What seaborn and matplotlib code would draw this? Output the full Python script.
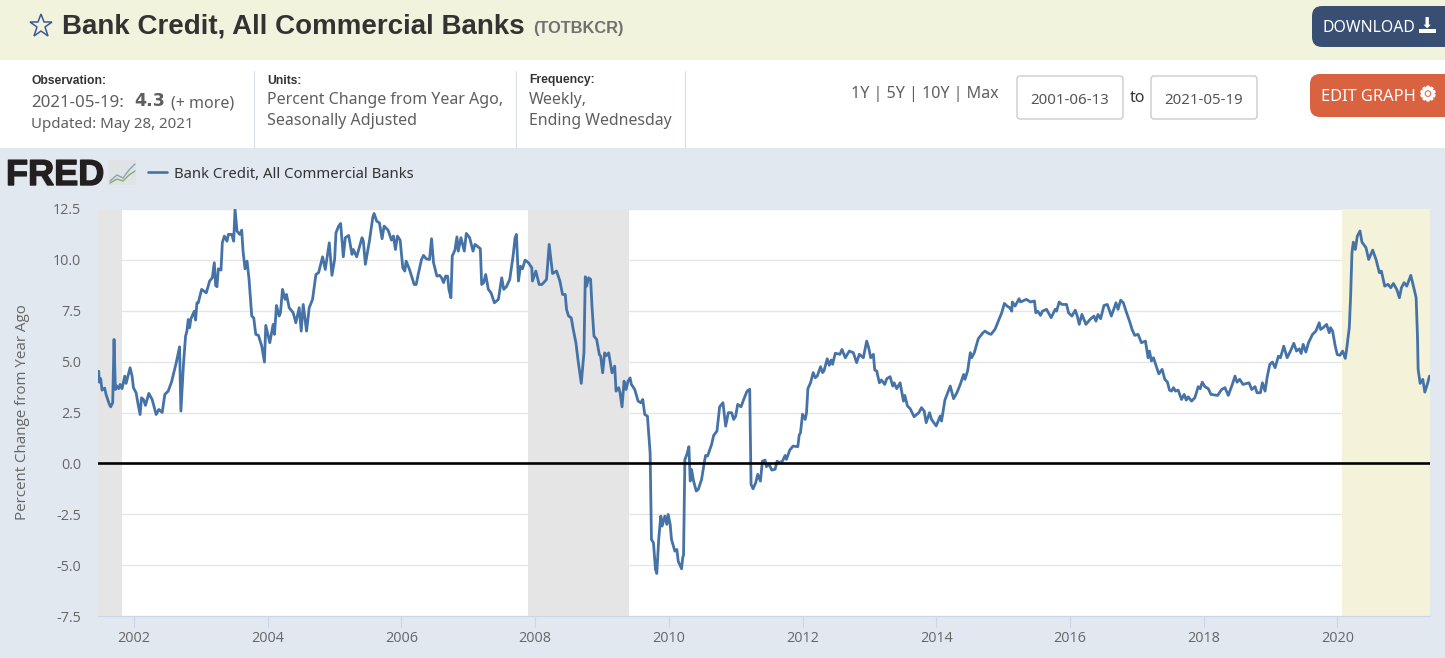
import matplotlib
matplotlib.use('Agg')
import matplotlib.pyplot as plt
import matplotlib.patheffects as pe
import pandas as pd
import seaborn as sns
from matplotlib.patches import FancyBboxPatch, Rectangle

# decimal year, percent change from year ago
years = [
    2001.47, 2001.48, 2001.50, 2001.52, 2001.56, 2001.58, 2001.63, 2001.65, 2001.68, 2001.70,
    2001.72, 2001.74, 2001.77, 2001.79, 2001.82, 2001.86, 2001.88, 2001.94, 2001.97, 2001.99,
    2002.03, 2002.06, 2002.09, 2002.11, 2002.14, 2002.17, 2002.22, 2002.27, 2002.33, 2002.37,
    2002.42, 2002.46, 2002.51, 2002.56, 2002.63, 2002.68, 2002.70, 2002.74, 2002.77, 2002.79,
    2002.81, 2002.83, 2002.85, 2002.90, 2002.92, 2002.94, 2002.96, 2003.01, 2003.08, 2003.13,
    2003.17, 2003.20, 2003.22, 2003.24, 2003.26, 2003.30, 2003.32, 2003.35, 2003.39, 2003.41,
    2003.46, 2003.49, 2003.51, 2003.54, 2003.58, 2003.61, 2003.63, 2003.66, 2003.69, 2003.72,
    2003.76, 2003.79, 2003.82, 2003.86, 2003.91, 2003.95, 2003.97, 2004.03, 2004.08, 2004.10,
    2004.13, 2004.17, 2004.19, 2004.22, 2004.26, 2004.28, 2004.32, 2004.38, 2004.42, 2004.47,
    2004.50, 2004.53, 2004.58, 2004.62, 2004.67, 2004.72, 2004.76, 2004.82, 2004.86, 2004.92,
    2004.96, 2005.00, 2005.02, 2005.06, 2005.09, 2005.13, 2005.16, 2005.21, 2005.26, 2005.28,
    2005.33, 2005.41, 2005.43, 2005.46, 2005.52, 2005.57, 2005.59, 2005.63, 2005.67, 2005.71,
    2005.74, 2005.80, 2005.85, 2005.88, 2005.91, 2005.94, 2005.98, 2006.02, 2006.05, 2006.07,
    2006.12, 2006.19, 2006.22, 2006.25, 2006.30, 2006.33, 2006.37, 2006.42, 2006.45, 2006.48,
    2006.53, 2006.57, 2006.60, 2006.63, 2006.66, 2006.69, 2006.71, 2006.74, 2006.76, 2006.80,
    2006.83, 2006.85, 2006.89, 2006.94, 2006.97, 2007.02, 2007.07, 2007.10, 2007.18, 2007.20,
    2007.23, 2007.26, 2007.30, 2007.34, 2007.39, 2007.45, 2007.50, 2007.53, 2007.57, 2007.62,
    2007.67, 2007.70, 2007.72, 2007.75, 2007.78, 2007.81, 2007.85, 2007.90, 2007.95, 2007.96,
    2008.01, 2008.06, 2008.10, 2008.15, 2008.17, 2008.21, 2008.26, 2008.32, 2008.37, 2008.41,
    2008.45, 2008.47, 2008.50, 2008.54, 2008.57, 2008.61, 2008.64, 2008.69, 2008.73, 2008.75,
    2008.77, 2008.80, 2008.83, 2008.85, 2008.88, 2008.92, 2008.96, 2008.98, 2009.01, 2009.04,
    2009.07, 2009.10, 2009.15, 2009.19, 2009.21, 2009.25, 2009.27, 2009.30, 2009.33, 2009.36,
    2009.39, 2009.42, 2009.44, 2009.49, 2009.54, 2009.58, 2009.61, 2009.64, 2009.68, 2009.72,
    2009.74, 2009.77, 2009.80, 2009.82, 2009.85, 2009.88, 2009.90, 2009.94, 2009.97, 2009.99,
    2010.02, 2010.04, 2010.09, 2010.12, 2010.14, 2010.19, 2010.21, 2010.22, 2010.24, 2010.27,
    2010.30, 2010.32, 2010.34, 2010.37, 2010.41, 2010.44, 2010.49, 2010.53, 2010.55, 2010.58,
    2010.64, 2010.67, 2010.72, 2010.76, 2010.81, 2010.85, 2010.89, 2010.94, 2010.97, 2011.00,
    2011.03, 2011.08, 2011.12, 2011.17, 2011.21, 2011.23, 2011.26, 2011.30, 2011.33, 2011.37,
    2011.40, 2011.44, 2011.46, 2011.50, 2011.54, 2011.59, 2011.62, 2011.65, 2011.70, 2011.74,
    2011.76, 2011.81, 2011.86, 2011.93, 2011.95, 2011.97, 2012.00, 2012.04, 2012.06, 2012.08,
    2012.12, 2012.16, 2012.19, 2012.22, 2012.27, 2012.30, 2012.32, 2012.37, 2012.40, 2012.43,
    2012.45, 2012.49, 2012.56, 2012.59, 2012.64, 2012.70, 2012.76, 2012.81, 2012.85, 2012.91,
    2012.96, 2012.99, 2013.02, 2013.06, 2013.08, 2013.11, 2013.15, 2013.18, 2013.23, 2013.26,
    2013.31, 2013.35, 2013.37, 2013.41, 2013.46, 2013.51, 2013.53, 2013.57, 2013.61, 2013.67,
    2013.71, 2013.74, 2013.78, 2013.82, 2013.85, 2013.90, 2013.93, 2014.00, 2014.06, 2014.08,
    2014.13, 2014.21, 2014.26, 2014.31, 2014.36, 2014.41, 2014.43, 2014.47, 2014.51, 2014.53,
    2014.57, 2014.63, 2014.70, 2014.73, 2014.78, 2014.82, 2014.88, 2014.95, 2014.98, 2015.02,
    2015.06, 2015.10, 2015.13, 2015.14, 2015.18, 2015.24, 2015.26, 2015.35, 2015.41, 2015.47,
    2015.49, 2015.52, 2015.56, 2015.59, 2015.65, 2015.72, 2015.78, 2015.80, 2015.84, 2015.88,
    2015.95, 2015.98, 2016.03, 2016.08, 2016.11, 2016.14, 2016.18, 2016.24, 2016.30, 2016.36,
    2016.39, 2016.42, 2016.46, 2016.51, 2016.56, 2016.62, 2016.69, 2016.72, 2016.76, 2016.80,
    2016.84, 2016.90, 2016.93, 2016.97, 2017.02, 2017.07, 2017.13, 2017.17, 2017.19, 2017.22,
    2017.25, 2017.30, 2017.33, 2017.38, 2017.42, 2017.46, 2017.49, 2017.52, 2017.55, 2017.58,
    2017.62, 2017.67, 2017.71, 2017.74, 2017.77, 2017.82, 2017.87, 2017.92, 2017.95, 2017.98,
    2018.02, 2018.07, 2018.11, 2018.21, 2018.27, 2018.32, 2018.37, 2018.43, 2018.47, 2018.50,
    2018.54, 2018.59, 2018.68, 2018.72, 2018.77, 2018.80, 2018.85, 2018.88, 2018.92, 2018.95,
    2018.99, 2019.03, 2019.07, 2019.12, 2019.15, 2019.20, 2019.25, 2019.30, 2019.35, 2019.39,
    2019.43, 2019.46, 2019.49, 2019.53, 2019.57, 2019.63, 2019.68, 2019.73, 2019.75, 2019.79,
    2019.84, 2019.88, 2019.90, 2019.93, 2019.97, 2020.00, 2020.04, 2020.08, 2020.12, 2020.14,
    2020.18, 2020.20, 2020.22, 2020.24, 2020.27, 2020.30, 2020.34, 2020.37, 2020.43, 2020.47,
    2020.53, 2020.58, 2020.63, 2020.66, 2020.71, 2020.76, 2020.80, 2020.84, 2020.89, 2020.93,
    2020.96, 2021.00, 2021.04, 2021.10, 2021.13, 2021.18, 2021.20, 2021.21, 2021.24, 2021.28,
    2021.31, 2021.34, 2021.38,
]
pct_change = [
    4.53, 3.99, 4.16, 3.60, 3.70, 3.39, 2.90, 2.78, 2.98, 6.09,
    3.63, 3.80, 3.67, 3.88, 3.67, 4.29, 3.93, 4.70, 4.29, 3.72,
    3.47, 2.90, 2.40, 3.22, 3.14, 2.85, 3.44, 3.14, 2.40, 2.65,
    2.50, 3.39, 3.55, 4.00, 4.94, 5.73, 2.57, 4.94, 6.25, 6.50,
    7.07, 6.66, 7.10, 7.48, 7.04, 7.89, 7.89, 8.55, 8.38, 8.96,
    9.12, 9.86, 8.74, 8.68, 9.56, 9.50, 10.84, 11.17, 10.92, 11.25,
    11.25, 10.92, 12.48, 11.41, 11.25, 11.46, 10.43, 9.56, 9.94, 9.04,
    7.24, 7.15, 6.34, 6.29, 5.76, 4.98, 6.78, 5.93, 6.83, 6.34,
    7.76, 7.24, 7.40, 8.55, 8.06, 8.30, 7.65, 7.40, 6.91, 7.65,
    6.50, 7.81, 6.50, 7.65, 8.06, 9.28, 9.37, 10.15, 9.53, 10.84,
    9.24, 10.02, 11.33, 11.66, 11.79, 10.15, 11.09, 11.20, 10.27, 10.51,
    10.15, 11.09, 10.92, 9.78, 10.92, 12.07, 12.28, 11.90, 11.82, 11.04,
    11.66, 11.46, 10.97, 11.17, 10.51, 11.17, 10.97, 9.61, 9.45, 9.94,
    9.53, 8.79, 8.79, 9.28, 10.02, 10.22, 10.05, 10.02, 11.04, 9.86,
    9.20, 9.24, 9.12, 8.88, 9.20, 9.20, 8.55, 8.14, 10.19, 10.48,
    11.13, 10.43, 11.09, 10.43, 11.30, 11.09, 10.43, 10.76, 10.55, 8.79,
    8.88, 9.28, 8.55, 8.38, 7.89, 8.06, 9.12, 8.55, 8.68, 9.04,
    10.19, 11.09, 11.25, 8.96, 9.69, 9.56, 9.99, 9.86, 9.61, 8.96,
    9.45, 8.79, 8.79, 8.96, 9.04, 10.76, 9.33, 9.45, 8.96, 8.30,
    8.30, 7.56, 7.24, 7.15, 6.58, 5.93, 5.11, 3.93, 5.43, 9.17,
    8.71, 9.12, 9.04, 7.73, 6.25, 6.09, 5.35, 5.27, 4.45, 5.43,
    5.30, 5.43, 4.45, 4.78, 3.55, 3.72, 3.47, 2.78, 4.04, 3.63,
    4.04, 4.20, 3.88, 3.63, 3.06, 2.98, 3.14, 2.40, 2.32, 0.52,
    -3.74, -3.90, -5.21, -5.41, -3.66, -2.59, -3.08, -2.59, -3.00, -2.51,
    -3.00, -3.74, -4.31, -4.23, -4.80, -5.18, -4.59, -4.52, 0.19, 0.44,
    0.82, -0.87, -0.30, -0.87, -1.36, -1.28, -0.79, 0.03, 0.39, 0.36,
    0.93, 1.37, 1.59, 2.78, 2.98, 1.83, 2.49, 2.49, 2.16, 2.32,
    2.90, 2.78, 3.14, 3.55, 3.64, -1.03, -1.25, -0.95, -0.54, -0.87,
    0.11, 0.16, -0.16, -0.05, -0.33, -0.29, 0.11, 0.03, 0.11, 0.39,
    0.20, 0.66, 0.85, 0.82, 1.38, 1.51, 2.41, 2.16, 2.49, 3.67,
    3.96, 4.46, 4.21, 4.29, 4.75, 4.46, 4.54, 5.14, 4.82, 5.08,
    4.87, 5.41, 5.36, 5.60, 5.19, 5.52, 5.44, 4.95, 5.36, 5.19,
    6.01, 5.68, 5.19, 5.36, 4.59, 4.54, 3.96, 4.10, 3.88, 4.16,
    4.26, 3.80, 3.96, 3.67, 3.96, 3.06, 3.34, 2.82, 2.69, 2.29,
    2.41, 2.49, 2.74, 2.57, 2.00, 2.49, 2.16, 1.84, 2.33, 2.08,
    3.11, 3.80, 3.18, 3.47, 3.88, 4.37, 4.13, 4.54, 5.44, 5.19,
    5.44, 6.13, 6.42, 6.50, 6.39, 6.34, 6.59, 7.16, 7.40, 7.86,
    7.73, 7.65, 7.48, 7.93, 7.73, 8.09, 7.93, 8.06, 7.93, 7.98,
    7.40, 7.48, 7.27, 7.48, 7.57, 7.16, 7.57, 7.48, 7.93, 7.81,
    7.81, 7.40, 7.24, 7.53, 7.24, 6.83, 7.32, 6.83, 7.07, 7.24,
    6.99, 7.32, 7.11, 7.76, 7.81, 7.24, 7.89, 7.57, 8.02, 7.89,
    7.48, 6.91, 6.58, 6.29, 6.34, 5.93, 6.01, 5.19, 5.52, 5.03,
    5.19, 4.70, 4.40, 4.62, 4.13, 3.99, 3.60, 3.55, 3.72, 3.55,
    3.60, 3.14, 3.39, 3.11, 3.27, 3.06, 3.23, 3.77, 3.67, 3.99,
    3.77, 3.67, 3.39, 3.34, 3.63, 3.72, 3.34, 3.88, 4.29, 3.99,
    4.13, 3.88, 3.96, 3.63, 3.77, 3.47, 3.47, 3.96, 3.55, 4.21,
    4.86, 4.98, 4.70, 5.27, 5.19, 5.76, 5.19, 5.52, 5.90, 5.52,
    5.63, 5.40, 5.85, 5.47, 5.93, 6.34, 6.50, 6.91, 6.58, 6.67,
    6.83, 6.42, 6.67, 6.50, 5.76, 5.35, 5.31, 5.52, 5.16, 5.60,
    6.67, 8.22, 10.35, 10.87, 10.51, 11.17, 11.42, 10.87, 10.60, 10.02,
    10.48, 10.02, 9.37, 9.45, 8.71, 8.80, 8.63, 8.84, 8.55, 8.14,
    8.63, 8.88, 8.71, 9.24, 8.84, 8.14, 6.26, 4.62, 3.93, 4.13,
    3.50, 3.80, 4.29,
]
recessions = [(2001.25, 2001.82), (2007.89, 2009.41)]
covid_band = (2020.07, 2021.38)
x_ticks = list(range(2002, 2021, 2))
y_ticks = [-7.5, -5.0, -2.5, 0.0, 2.5, 5.0, 7.5, 10.0, 12.5]

W, H = 1445, 658
BG = '#e1e8f0'
LINE = '#4572a7'
TXT = '#5f5f5f'
DARK = '#333333'

sns.set_theme(style='white')
plt.rcParams['font.family'] = ['Open Sans', 'DejaVu Sans']

fig = plt.figure(figsize=(W / 100, H / 100), dpi=100, facecolor=BG)

# page furniture around the chart, in pixels
ui = fig.add_axes([0, 0, 1, 1], zorder=0)
ui.set_xlim(0, W)
ui.set_ylim(H, 0)
ui.axis('off')
ui.add_patch(Rectangle((0, 0), W, 60, color='#f2f3dd', lw=0))
ui.add_patch(Rectangle((0, 60), W, 88, color='white', lw=0))
for sx in [253.5, 515.5, 684.5]:
    ui.plot([sx, sx], [71, 148], color='#d6e0ea', lw=0.8)

ui.plot([41], [26], marker='*', ms=17, mfc='none', mec='#3b5998', mew=1.1)
ui.text(62, 26, 'Bank Credit, All Commercial Banks', fontsize=20, fontweight='bold',
        family='Liberation Sans', color=DARK, va='center')
ui.text(533, 29, '(TOTBKCR)', fontsize=11.8, fontweight='bold', family='Liberation Sans', color='#707070', va='center')

small = dict(family='Noto Sans', va='center')
bold = dict(family='Liberation Sans', fontweight='bold', fontsize=8.7, color=DARK, va='center')
ui.text(31, 80.5, 'Observation:', **bold)
ui.text(31, 103, '2021-05-19:', fontsize=12.2, color=TXT, **small)
ui.text(134, 101, '4.3', fontsize=12.6, fontweight='bold', family='DejaVu Sans', color=TXT, va='center')
ui.text(171, 103, '(+ more)', fontsize=11.5, color=TXT, **small)
ui.text(31, 125, 'Updated: May 28, 2021', fontsize=10.8, color=TXT, **small)
ui.text(267, 80.5, 'Units:', **bold)
ui.text(267, 100, 'Percent Change from Year Ago,', fontsize=11.5, color=TXT, **small)
ui.text(267, 121, 'Seasonally Adjusted', fontsize=11.5, color=TXT, **small)
ui.text(529, 80.5, 'Frequency:', **bold)
ui.text(529, 100, 'Weekly,', fontsize=11.5, color=TXT, **small)
ui.text(529, 121, 'Ending Wednesday', fontsize=11.4, color=TXT, **small)
ui.text(851, 94, '1Y | 5Y | 10Y | Max', fontsize=11.6, color=TXT, **small)
ui.text(1137, 98, 'to', fontsize=11.5, color=DARK, ha='center', **small)
for bx, label in [(1017, '2001-06-13'), (1151, '2021-05-19')]:
    ui.add_patch(FancyBboxPatch((bx, 76), 106, 43, boxstyle='round,pad=0,rounding_size=3',
                                fc='white', ec='#cccccc', lw=1))
    ui.text(bx + 53, 100, label, fontsize=10.8, color='#555555', ha='center', **small)

ui.add_patch(FancyBboxPatch((1312, 6), 150, 41, boxstyle='round,pad=0,rounding_size=10', fc='#384f73', lw=0))
ui.text(1323, 28, 'DOWNLOAD', fontsize=11.4, color='white', **small)
ui.text(1427, 24, '\u2b07', fontsize=10.5, color='white', ha='center', va='center', family='DejaVu Sans')
ui.add_patch(Rectangle((1419, 29), 17, 4, color='white', lw=0))
ui.add_patch(FancyBboxPatch((1310, 74), 150, 43, boxstyle='round,pad=0,rounding_size=10', fc='#d96340', lw=0))
ui.text(1321, 97, 'EDIT GRAPH', fontsize=11.8, color='white', **small)
ui.text(1428, 95, '\u2699', fontsize=14, color='white', ha='center', va='center', family='DejaVu Sans',
        path_effects=[pe.withStroke(linewidth=1.2, foreground='white')])

# FRED logo and legend
ui.text(6, 175.5, 'FRED', fontsize=26, fontweight='bold', family='Liberation Sans', color='#231f20', va='center',
        path_effects=[pe.withStroke(linewidth=1, foreground='#231f20')])
ui.add_patch(Rectangle((108, 160), 28, 25, color='#dfe3e6', lw=0))
ui.plot([110, 117, 123, 129, 135], [181, 175, 178, 170, 164], color='#8aa2b8', lw=1)
ui.plot([110, 117, 123, 129, 135], [183, 179, 181, 175, 171], color='#8eaa6a', lw=1)
ui.plot([148, 167], [172, 172], color=LINE, lw=1.9)
ui.text(174, 174, 'Bank Credit, All Commercial Banks', fontsize=10.7, family='Noto Sans', color=DARK, va='center')

# chart
ax = fig.add_axes([98 / W, 1 - 616 / H, (1429.5 - 98) / W, (616 - 209) / H], zorder=1)
ax.set_facecolor('white')
ax.set_xlim(2001.46, 2021.38)
ax.set_ylim(-7.5, 12.5)
for v in y_ticks:
    ax.axhline(v, color='#e6e6e6', lw=1, zorder=1)
for start, end in recessions:
    ax.axvspan(start, end, color='#e5e5e5', lw=0, zorder=2)
ax.axvspan(covid_band[0], covid_band[1], color='#f4f3da', lw=0, zorder=2)

df = pd.DataFrame({'year': years, 'pct': pct_change})
sns.lineplot(data=df, x='year', y='pct', color=LINE, lw=2.0, estimator=None, ax=ax, zorder=3)
ax.axhline(0, color='black', lw=1.9, zorder=4)

ax.set_xticks(x_ticks)
ax.set_yticks(y_ticks)
ax.set_yticklabels([f'{v:.1f}' for v in y_ticks])
ax.tick_params(axis='x', length=8, width=0.8, color='#ccd6eb', labelcolor='#666666', labelsize=10.4, pad=3, bottom=True)
ax.tick_params(axis='y', length=0, labelcolor='#666666', labelsize=10.4, pad=12)
ax.set_xlabel('')
ax.set_ylabel('Percent Change from Year Ago', fontsize=10.9, color='#666666')
ax.yaxis.set_label_coords((30 - 98) / (1429.5 - 98), 0.5)
for side in ['top', 'right', 'left']:
    ax.spines[side].set_visible(False)
ax.spines['bottom'].set_color('#ccd6eb')
ax.spines['bottom'].set_linewidth(0.8)

fig.savefig('out.png', dpi=100, facecolor=fig.get_facecolor())
